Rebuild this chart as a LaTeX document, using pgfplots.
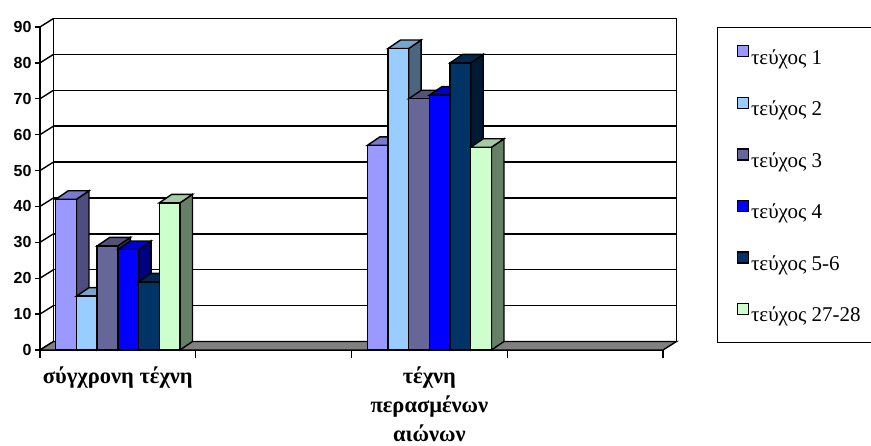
\documentclass[border=0pt]{standalone}
\usepackage{pgfplots}
\pgfplotsset{compat=1.18}
\usepackage{pgfplotstable}
\usepackage{fontspec}
\setmainfont{Liberation Serif}
\setsansfont{Liberation Sans}

\definecolor{F1}{HTML}{9999FF}\definecolor{T1}{HTML}{7A7ACC}\definecolor{S1}{HTML}{4D4D80}
\definecolor{F2}{HTML}{99CCFF}\definecolor{T2}{HTML}{7AA3CC}\definecolor{S2}{HTML}{4D6680}
\definecolor{F3}{HTML}{666699}\definecolor{T3}{HTML}{52527A}\definecolor{S3}{HTML}{33334D}
\definecolor{F4}{HTML}{0000FF}\definecolor{T4}{HTML}{0000CC}\definecolor{S4}{HTML}{000080}
\definecolor{F5}{HTML}{003366}\definecolor{T5}{HTML}{002952}\definecolor{S5}{HTML}{001A33}
\definecolor{F6}{HTML}{CCFFCC}\definecolor{T6}{HTML}{A3CCA3}\definecolor{S6}{HTML}{668066}
\definecolor{floorgray}{HTML}{808080}

% A 3D column drawn at its data point (x = category centre, y = value):
% #1 mark name, #2 shift (pt), #3 front, #4 top, #5 side colour
\newcommand\declbar[5]{%
  \pgfdeclareplotmark{#1}{%
    \pgfmathsetmacro\bL{#2-10.35}%
    \pgfmathsetmacro\bR{#2+10.35}%
    \pgfsetlinewidth{1.4pt}%
    \pgfsetstrokecolor{black}%
    \pgfsetmiterjoin
    % side face
    \pgfsetfillcolor{#5}%
    \pgfpathmoveto{\pgfpoint{\bR pt}{0pt}}%
    \pgfpathlineto{\pgfpoint{\bR pt+12.5pt}{8.5pt}}%
    \pgfpathlineto{\pgfpoint{\bR pt+12.5pt}{8.5pt-\barH pt}}%
    \pgfpathlineto{\pgfpoint{\bR pt}{-\barH pt}}%
    \pgfpathclose
    \pgfusepath{fill,stroke}%
    % top face
    \pgfsetfillcolor{#4}%
    \pgfpathmoveto{\pgfpoint{\bL pt}{0pt}}%
    \pgfpathlineto{\pgfpoint{\bL pt+12.5pt}{8.5pt}}%
    \pgfpathlineto{\pgfpoint{\bR pt+12.5pt}{8.5pt}}%
    \pgfpathlineto{\pgfpoint{\bR pt}{0pt}}%
    \pgfpathclose
    \pgfusepath{fill,stroke}%
    % front face
    \pgfsetfillcolor{#3}%
    \pgfpathrectanglecorners{\pgfpoint{\bL pt}{0pt}}{\pgfpoint{\bR pt}{-\barH pt}}%
    \pgfusepath{fill,stroke}%
  }}
\declbar{b1}{-51.75}{F1}{T1}{S1}
\declbar{b2}{-31.05}{F2}{T2}{S2}
\declbar{b3}{-10.35}{F3}{T3}{S3}
\declbar{b4}{10.35}{F4}{T4}{S4}
\declbar{b5}{31.05}{F5}{T5}{S5}
\declbar{b6}{51.75}{F6}{T6}{S6}

\pgfplotstableread{
x   v1 v2 v3 v4 v5 v6
0.5 42 15 29 28 19 41
2.5 57 84 70 71 80 56.5
}\data

\pgfplotsset{
  col3d/.style n args={3}{scatter, only marks, mark=#1,
    scatter/@pre marker code/.code={}, scatter/@post marker code/.code={},
    visualization depends on={3.5889*\thisrow{#2} \as \barH},
    legend image code/.code={\draw[fill=#3,draw=black,line width=1.3pt] (0pt,0.5pt) rectangle (11pt,11.5pt);}},
}

\begin{document}
\begin{tikzpicture}
\useasboundingbox (0,0) rectangle (871pt,446pt);
\begin{axis}[
  at={(40pt,96pt)}, anchor=south west,
  x=155.75pt, y=3.5889pt,
  xmin=0, xmax=4, ymin=0, ymax=90,
  enlargelimits=false, clip=false,
  axis lines*=left,
  axis line style={line width=1.4pt, black},
  ytick={0,10,...,90},
  tick align=outside,
  major tick length=5pt,
  ytick style={line width=1.4pt, black},
  xtick={0.5,2.5},
  xtick style={draw=none},
  xticklabels={σύγχρονη τέχνη, {τέχνη\\περασμένων\\αιώνων}},
  xticklabel style={align=center, font=\fontsize{22.5}{29}\selectfont\bfseries, anchor=north, yshift=-8pt},
  yticklabel style={font=\fontsize{16}{16}\selectfont\sffamily\bfseries},
  /pgf/number format/assume math mode=true,
  legend style={at={(1.08668,1)}, anchor=north west, draw=black, line width=1.4pt,
    font=\fontsize{21}{21}\selectfont, row sep=29.2pt, inner xsep=19pt, inner ysep=17.5pt},
  legend cell align=left,
]
% back wall
\draw[line width=1.4pt] ([shift={(13.5pt,8.5pt)}]axis cs:0,0) -- ([shift={(13.5pt,8.5pt)}]axis cs:0,90)
   -- ([shift={(13.5pt,8.5pt)}]axis cs:4,90) -- ([shift={(13.5pt,8.5pt)}]axis cs:4,0);
\pgfplotsinvokeforeach{10,20,30,40,50,60,70,80}{
  \draw[line width=1.4pt] ([shift={(13.5pt,8.5pt)}]axis cs:0,#1) -- ([shift={(13.5pt,8.5pt)}]axis cs:4,#1);
}
% left wall
\pgfplotsinvokeforeach{0,10,20,30,40,50,60,70,80,90}{
  \draw[line width=1.4pt] (axis cs:0,#1) -- ([shift={(13.5pt,8.5pt)}]axis cs:0,#1);
}
% floor
\filldraw[fill=floorgray, draw=black, line width=1.4pt] (axis cs:0,0) -- (axis cs:4,0)
   -- ([shift={(13.5pt,8.5pt)}]axis cs:4,0) -- ([shift={(13.5pt,8.5pt)}]axis cs:0,0) -- cycle;
\pgfplotsinvokeforeach{0,1,2,3,4}{
  \draw[line width=1.4pt] (axis cs:#1,0) -- ++(0,-8pt);
}
% columns
\addplot[col3d={b1}{v1}{F1}] table[x=x,y=v1]{\data};
\addplot[col3d={b2}{v2}{F2}] table[x=x,y=v2]{\data};
\addplot[col3d={b3}{v3}{F3}] table[x=x,y=v3]{\data};
\addplot[col3d={b4}{v4}{F4}] table[x=x,y=v4]{\data};
\addplot[col3d={b5}{v5}{F5}] table[x=x,y=v5]{\data};
\addplot[col3d={b6}{v6}{F6}] table[x=x,y=v6]{\data};
\legend{τεύχος 1, τεύχος 2, τεύχος 3, τεύχος 4, τεύχος 5-6, τεύχος 27-28}
\end{axis}
\end{tikzpicture}
\end{document}
